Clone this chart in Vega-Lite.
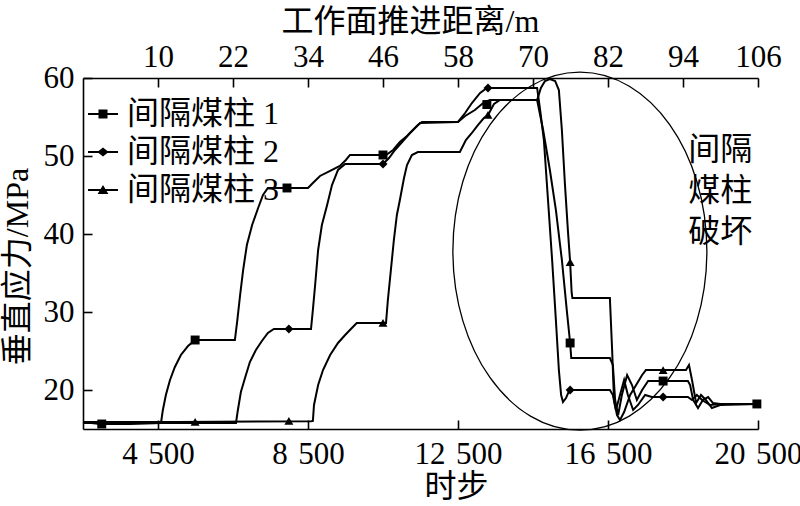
{
"$schema": "https://vega.github.io/schema/vega-lite/v6.json",
"width": 675, "height": 351,
"autosize": {"type": "none"},
"padding": {"left": 83, "top": 78, "right": 42, "bottom": 77},
"background": "white",
"config": {
  "view": {"stroke": null},
  "font": "'Liberation Serif', 'Noto Sans CJK SC'",
  "axis": {"domainColor": "black", "domainWidth": 1.6, "tickColor": "black", "tickWidth": 1.6, "tickSize": -9,
    "labelFont": "'Liberation Serif', 'Noto Sans CJK SC'", "labelFontSize": 31, "labelColor": "black",
    "titleFont": "'Liberation Serif', 'Noto Sans CJK SC'", "titleFontSize": 32, "titleFontWeight": "normal", "titleColor": "black",
    "grid": false, "labelFlush": false, "labelOverlap": false},
  "legend": {"labelFont": "'Liberation Serif', 'Noto Sans CJK SC'", "labelFontSize": 32, "labelColor": "black"}
},
"datasets": {
"lines": [
{"s":"间隔煤柱 1","step":2500,"stress":15.9},{"s":"间隔煤柱 1","step":2950,"stress":15.64},{"s":"间隔煤柱 1","step":3750,"stress":15.64},{"s":"间隔煤柱 1","step":4580,"stress":15.77},{"s":"间隔煤柱 1","step":4630,"stress":17.44},{"s":"间隔煤柱 1","step":4710,"stress":19.36},{"s":"间隔煤柱 1","step":4820,"stress":21.28},{"s":"间隔煤柱 1","step":4950,"stress":22.95},{"s":"间隔煤柱 1","step":5110,"stress":24.49},{"s":"间隔煤柱 1","step":5300,"stress":25.64},{"s":"间隔煤柱 1","step":5490,"stress":26.41},{"s":"间隔煤柱 1","step":6550,"stress":26.41},{"s":"间隔煤柱 1","step":6610,"stress":28.72},{"s":"间隔煤柱 1","step":6690,"stress":32.18},{"s":"间隔煤柱 1","step":6770,"stress":35.38},{"s":"间隔煤柱 1","step":6870,"stress":38.59},{"s":"间隔煤柱 1","step":7010,"stress":41.15},{"s":"间隔煤柱 1","step":7170,"stress":43.33},{"s":"间隔煤柱 1","step":7300,"stress":45.0},{"s":"间隔煤柱 1","step":7430,"stress":45.9},{"s":"间隔煤柱 1","step":8500,"stress":45.9},{"s":"间隔煤柱 1","step":8630,"stress":46.54},{"s":"间隔煤柱 1","step":8820,"stress":47.44},{"s":"间隔煤柱 1","step":9090,"stress":48.08},{"s":"间隔煤柱 1","step":9350,"stress":48.72},{"s":"间隔煤柱 1","step":9510,"stress":49.49},{"s":"间隔煤柱 1","step":9620,"stress":50.13},{"s":"间隔煤柱 1","step":10580,"stress":50.13},{"s":"间隔煤柱 1","step":10770,"stress":50.77},{"s":"间隔煤柱 1","step":10950,"stress":51.79},{"s":"间隔煤柱 1","step":11140,"stress":52.56},{"s":"间隔煤柱 1","step":11300,"stress":53.33},{"s":"间隔煤柱 1","step":11490,"stress":54.23},{"s":"间隔煤柱 1","step":12500,"stress":54.36},{"s":"间隔煤柱 1","step":12690,"stress":55.13},{"s":"间隔煤柱 1","step":12950,"stress":55.9},{"s":"间隔煤柱 1","step":13170,"stress":56.79},{"s":"间隔煤柱 1","step":13350,"stress":57.18},{"s":"间隔煤柱 1","step":14610,"stress":57.18},{"s":"间隔煤柱 1","step":14770,"stress":53.33},{"s":"间隔煤柱 1","step":14950,"stress":48.21},{"s":"间隔煤柱 1","step":15110,"stress":43.08},{"s":"间隔煤柱 1","step":15270,"stress":36.67},{"s":"间隔煤柱 1","step":15400,"stress":30.26},{"s":"间隔煤柱 1","step":15490,"stress":26.03},{"s":"间隔煤柱 1","step":15520,"stress":24.1},{"s":"间隔煤柱 1","step":16550,"stress":24.1},{"s":"间隔煤柱 1","step":16630,"stress":23.21},{"s":"间隔煤柱 1","step":16690,"stress":18.72},{"s":"间隔煤柱 1","step":16770,"stress":16.79},{"s":"间隔煤柱 1","step":16870,"stress":19.36},{"s":"间隔煤柱 1","step":17010,"stress":21.92},{"s":"间隔煤柱 1","step":17140,"stress":20.64},{"s":"间隔煤柱 1","step":17270,"stress":18.72},{"s":"间隔煤柱 1","step":17410,"stress":20.0},{"s":"间隔煤柱 1","step":17570,"stress":21.15},{"s":"间隔煤柱 1","step":18630,"stress":21.15},{"s":"间隔煤柱 1","step":18690,"stress":20.64},{"s":"间隔煤柱 1","step":18770,"stress":18.72},{"s":"间隔煤柱 1","step":18900,"stress":17.69},{"s":"间隔煤柱 1","step":19030,"stress":18.72},{"s":"间隔煤柱 1","step":19170,"stress":19.1},{"s":"间隔煤柱 1","step":19300,"stress":18.33},{"s":"间隔煤柱 1","step":19490,"stress":18.21},{"s":"间隔煤柱 1","step":20500,"stress":18.21},
{"s":"间隔煤柱 2","step":2500,"stress":15.77},{"s":"间隔煤柱 2","step":4500,"stress":15.77},{"s":"间隔煤柱 2","step":6580,"stress":15.77},{"s":"间隔煤柱 2","step":6630,"stress":17.44},{"s":"间隔煤柱 2","step":6710,"stress":19.74},{"s":"间隔煤柱 2","step":6820,"stress":21.54},{"s":"间隔煤柱 2","step":6950,"stress":23.59},{"s":"间隔煤柱 2","step":7110,"stress":25.13},{"s":"间隔煤柱 2","step":7270,"stress":26.28},{"s":"间隔煤柱 2","step":7430,"stress":27.31},{"s":"间隔煤柱 2","step":7590,"stress":27.82},{"s":"间隔煤柱 2","step":8580,"stress":27.82},{"s":"间隔煤柱 2","step":8630,"stress":30.26},{"s":"间隔煤柱 2","step":8690,"stress":33.46},{"s":"间隔煤柱 2","step":8770,"stress":37.95},{"s":"间隔煤柱 2","step":8870,"stress":41.15},{"s":"间隔煤柱 2","step":9010,"stress":43.72},{"s":"间隔煤柱 2","step":9140,"stress":46.28},{"s":"间隔煤柱 2","step":9300,"stress":48.21},{"s":"间隔煤柱 2","step":9490,"stress":48.97},{"s":"间隔煤柱 2","step":10500,"stress":48.97},{"s":"间隔煤柱 2","step":10660,"stress":49.74},{"s":"间隔煤柱 2","step":10820,"stress":50.77},{"s":"间隔煤柱 2","step":11010,"stress":51.79},{"s":"间隔煤柱 2","step":11220,"stress":52.95},{"s":"间隔煤柱 2","step":11430,"stress":53.97},{"s":"间隔煤柱 2","step":11540,"stress":54.36},{"s":"间隔煤柱 2","step":12500,"stress":54.36},{"s":"间隔煤柱 2","step":12690,"stress":55.51},{"s":"间隔煤柱 2","step":12870,"stress":56.79},{"s":"间隔煤柱 2","step":13090,"stress":58.08},{"s":"间隔煤柱 2","step":13270,"stress":58.72},{"s":"间隔煤柱 2","step":14610,"stress":58.72},{"s":"间隔煤柱 2","step":14690,"stress":55.9},{"s":"间隔煤柱 2","step":14790,"stress":52.05},{"s":"间隔煤柱 2","step":14900,"stress":44.36},{"s":"间隔煤柱 2","step":15010,"stress":36.67},{"s":"间隔煤柱 2","step":15110,"stress":28.97},{"s":"间隔煤柱 2","step":15190,"stress":22.56},{"s":"间隔煤柱 2","step":15250,"stress":19.36},{"s":"间隔煤柱 2","step":15300,"stress":18.46},{"s":"间隔煤柱 2","step":15380,"stress":18.97},{"s":"间隔煤柱 2","step":15460,"stress":19.87},{"s":"间隔煤柱 2","step":15540,"stress":20.0},{"s":"间隔煤柱 2","step":16550,"stress":20.0},{"s":"间隔煤柱 2","step":16630,"stress":19.36},{"s":"间隔煤柱 2","step":16710,"stress":17.44},{"s":"间隔煤柱 2","step":16820,"stress":19.36},{"s":"间隔煤柱 2","step":16930,"stress":21.28},{"s":"间隔煤柱 2","step":17030,"stress":19.36},{"s":"间隔煤柱 2","step":17170,"stress":17.44},{"s":"间隔煤柱 2","step":17300,"stress":18.08},{"s":"间隔煤柱 2","step":17490,"stress":19.36},{"s":"间隔煤柱 2","step":17670,"stress":19.1},{"s":"间隔煤柱 2","step":18630,"stress":19.1},{"s":"间隔煤柱 2","step":18740,"stress":18.72},{"s":"间隔煤柱 2","step":18870,"stress":19.36},{"s":"间隔煤柱 2","step":19010,"stress":18.72},{"s":"间隔煤柱 2","step":19220,"stress":18.08},{"s":"间隔煤柱 2","step":19490,"stress":18.21},{"s":"间隔煤柱 2","step":20500,"stress":18.21},
{"s":"间隔煤柱 3","step":2500,"stress":15.9},{"s":"间隔煤柱 3","step":5000,"stress":15.9},{"s":"间隔煤柱 3","step":8580,"stress":16.0},{"s":"间隔煤柱 3","step":8630,"stress":16.03},{"s":"间隔煤柱 3","step":8660,"stress":18.08},{"s":"间隔煤柱 3","step":8770,"stress":20.64},{"s":"间隔煤柱 3","step":8900,"stress":22.56},{"s":"间隔煤柱 3","step":9090,"stress":24.49},{"s":"间隔煤柱 3","step":9300,"stress":26.03},{"s":"间隔煤柱 3","step":9490,"stress":27.05},{"s":"间隔煤柱 3","step":9670,"stress":27.95},{"s":"间隔煤柱 3","step":9800,"stress":28.59},{"s":"间隔煤柱 3","step":10580,"stress":28.59},{"s":"间隔煤柱 3","step":10630,"stress":31.54},{"s":"间隔煤柱 3","step":10710,"stress":35.38},{"s":"间隔煤柱 3","step":10790,"stress":39.23},{"s":"间隔煤柱 3","step":10870,"stress":42.44},{"s":"间隔煤柱 3","step":10950,"stress":44.36},{"s":"间隔煤柱 3","step":11060,"stress":47.18},{"s":"间隔煤柱 3","step":11140,"stress":48.85},{"s":"间隔煤柱 3","step":11270,"stress":50.13},{"s":"间隔煤柱 3","step":11430,"stress":50.51},{"s":"间隔煤柱 3","step":12550,"stress":50.51},{"s":"间隔煤柱 3","step":12710,"stress":52.05},{"s":"间隔煤柱 3","step":12870,"stress":52.95},{"s":"间隔煤柱 3","step":13030,"stress":53.97},{"s":"间隔煤柱 3","step":13190,"stress":54.87},{"s":"间隔煤柱 3","step":13300,"stress":55.26},{"s":"间隔煤柱 3","step":13460,"stress":56.67},{"s":"间隔煤柱 3","step":13620,"stress":57.18},{"s":"间隔煤柱 3","step":14610,"stress":57.18},{"s":"间隔煤柱 3","step":14710,"stress":58.72},{"s":"间隔煤柱 3","step":14820,"stress":59.62},{"s":"间隔煤柱 3","step":14950,"stress":59.87},{"s":"间隔煤柱 3","step":15090,"stress":59.62},{"s":"间隔煤柱 3","step":15190,"stress":58.46},{"s":"间隔煤柱 3","step":15270,"stress":53.33},{"s":"间隔煤柱 3","step":15350,"stress":46.5},{"s":"间隔煤柱 3","step":15430,"stress":40.5},{"s":"间隔煤柱 3","step":15490,"stress":36.41},{"s":"间隔煤柱 3","step":15530,"stress":32.5},{"s":"间隔煤柱 3","step":15550,"stress":31.79},{"s":"间隔煤柱 3","step":16550,"stress":31.79},{"s":"间隔煤柱 3","step":16610,"stress":25.13},{"s":"间隔煤柱 3","step":16660,"stress":18.72},{"s":"间隔煤柱 3","step":16740,"stress":16.79},{"s":"间隔煤柱 3","step":16820,"stress":16.15},{"s":"间隔煤柱 3","step":16930,"stress":17.18},{"s":"间隔煤柱 3","step":17090,"stress":19.36},{"s":"间隔煤柱 3","step":17250,"stress":20.64},{"s":"间隔煤柱 3","step":17410,"stress":21.92},{"s":"间隔煤柱 3","step":17510,"stress":22.56},{"s":"间隔煤柱 3","step":18580,"stress":22.56},{"s":"间隔煤柱 3","step":18660,"stress":23.21},{"s":"间隔煤柱 3","step":18740,"stress":21.28},{"s":"间隔煤柱 3","step":18850,"stress":18.33},{"s":"间隔煤柱 3","step":18980,"stress":19.36},{"s":"间隔煤柱 3","step":19110,"stress":18.72},{"s":"间隔煤柱 3","step":19270,"stress":17.69},{"s":"间隔煤柱 3","step":19490,"stress":18.08},{"s":"间隔煤柱 3","step":20500,"stress":18.21}
],
"markers": [
{"s":"间隔煤柱 2","step":7990,"stress":27.82},{"s":"间隔煤柱 2","step":10500,"stress":48.97},{"s":"间隔煤柱 2","step":13300,"stress":58.72},{"s":"间隔煤柱 2","step":15490,"stress":20.0},{"s":"间隔煤柱 2","step":17970,"stress":19.1},
{"s":"间隔煤柱 3","step":5490,"stress":15.9},{"s":"间隔煤柱 3","step":7990,"stress":16.03},{"s":"间隔煤柱 3","step":10500,"stress":28.59},{"s":"间隔煤柱 3","step":13300,"stress":55.26},{"s":"间隔煤柱 3","step":15490,"stress":36.41},{"s":"间隔煤柱 3","step":17970,"stress":22.56},
{"s":"间隔煤柱 1","step":3000,"stress":15.64},{"s":"间隔煤柱 1","step":5490,"stress":26.41},{"s":"间隔煤柱 1","step":7940,"stress":45.9},{"s":"间隔煤柱 1","step":10500,"stress":50.13},{"s":"间隔煤柱 1","step":13270,"stress":56.6},{"s":"间隔煤柱 1","step":15490,"stress":26.03},{"s":"间隔煤柱 1","step":17970,"stress":21.15},{"s":"间隔煤柱 1","step":20470,"stress":18.21}
],
"ellipse": [{"step": 15750, "stress": 37.8}],
"note": [{"step": 19490, "stress": 50.8, "text": "间隔\n煤柱\n破坏"}],
"distance": [{"m":10},{"m":22},{"m":34},{"m":46},{"m":58},{"m":70},{"m":82},{"m":94},{"m":106}]
},
"layer": [
 {"layer": [
  {"data": {"name": "lines"},
   "mark": {"type": "line", "color": "black", "strokeWidth": 2},
   "encoding": {
     "x": {"field": "step", "type": "quantitative", "scale": {"domain": [2500, 20500], "nice": false, "zero": false},
       "axis": {"orient": "bottom", "values": [4500, 8500, 12500, 16500, 20500], "labelExpr": "replace(format(datum.value, ','), ',', '\u2004')", "labelPadding": 19, "title": "时步", "titleX": 373, "titleY": 57, "titleAlign": "center", "titleBaseline": "middle"}},
     "y": {"field": "stress", "type": "quantitative", "scale": {"domain": [15, 60], "nice": false, "zero": false},
       "axis": {"values": [20, 30, 40, 50, 60], "labelPadding": 18, "title": "垂直应力/MPa", "titleX": -66, "titleY": 188, "titleAngle": -90, "titleAlign": "center", "titleBaseline": "middle"}},
     "detail": {"field": "s", "type": "nominal"}
   }},
  {"data": {"name": "markers"},
   "mark": {"type": "point", "filled": true, "color": "black", "opacity": 1, "size": 80},
   "encoding": {
     "x": {"field": "step", "type": "quantitative"},
     "y": {"field": "stress", "type": "quantitative"},
     "shape": {"field": "s", "type": "nominal", "scale": {"domain": ["间隔煤柱 1", "间隔煤柱 2", "间隔煤柱 3"], "range": ["square", "diamond", "triangle-up"]}, "legend": null}
   }},
  {"data": {"name": "markers"},
   "mark": {"type": "point", "filled": true, "color": "black", "opacity": 0},
   "encoding": {
     "x": {"field": "step", "type": "quantitative"},
     "y": {"field": "stress", "type": "quantitative"},
     "shape": {"field": "s", "type": "nominal",
       "scale": {"domain": ["间隔煤柱 1", "间隔煤柱 2", "间隔煤柱 3"],
         "range": ["M -1 -0.07 L 1 -0.07 L 1 0.07 L -1 0.07 Z M -0.3 -0.3 L 0.3 -0.3 L 0.3 0.3 L -0.3 0.3 Z", "M -1 -0.07 L 1 -0.07 L 1 0.07 L -1 0.07 Z M -0.38 0 L 0 -0.3 L 0.38 0 L 0 0.3 Z", "M -1 -0.07 L 1 -0.07 L 1 0.07 L -1 0.07 Z M -0.36 0.27 L 0 -0.33 L 0.36 0.27 Z"]},
       "legend": {"title": null, "orient": "none", "legendX": 4, "legendY": 20, "padding": 0, "symbolSize": 900, "symbolOpacity": 1, "symbolFillColor": "black", "labelOffset": 8, "rowPadding": 6, "labelBaseline": "middle",
         "encode": {"symbols": {"update": {"fill": {"value": "black"}, "opacity": {"value": 1}}}}}}
   }},
  {"data": {"name": "ellipse"},
   "mark": {"type": "point", "shape": "M -0.7095 0 A 0.7095 1 0 1 1 0.7095 0 A 0.7095 1 0 1 1 -0.7095 0 Z", "size": 128164, "filled": false, "stroke": "black", "strokeWidth": 1.3, "opacity": 1},
   "encoding": {
     "x": {"field": "step", "type": "quantitative"},
     "y": {"field": "stress", "type": "quantitative"}
   }},
  {"data": {"name": "note"},
   "mark": {"type": "text", "lineBreak": "\n", "lineHeight": 41, "fontSize": 32, "color": "black", "align": "center", "baseline": "middle"},
   "encoding": {
     "x": {"field": "step", "type": "quantitative"},
     "y": {"field": "stress", "type": "quantitative"},
     "text": {"field": "text", "type": "nominal"}
   }}
 ],
 "resolve": {"scale": {"shape": "independent"}}},
 {"data": {"name": "distance"},
  "mark": {"type": "rule", "opacity": 0},
  "encoding": {
    "x": {"field": "m", "type": "quantitative", "scale": {"domain": [-2, 106], "nice": false, "zero": false},
      "axis": {"orient": "top", "values": [10, 22, 34, 46, 58, 70, 82, 94, 106], "labelPadding": 14, "title": "工作面推进距离/m", "titleX": 327, "titleY": -57, "titleAlign": "center", "titleBaseline": "middle"}}
  }}
],
"resolve": {"scale": {"x": "independent"}}
}
